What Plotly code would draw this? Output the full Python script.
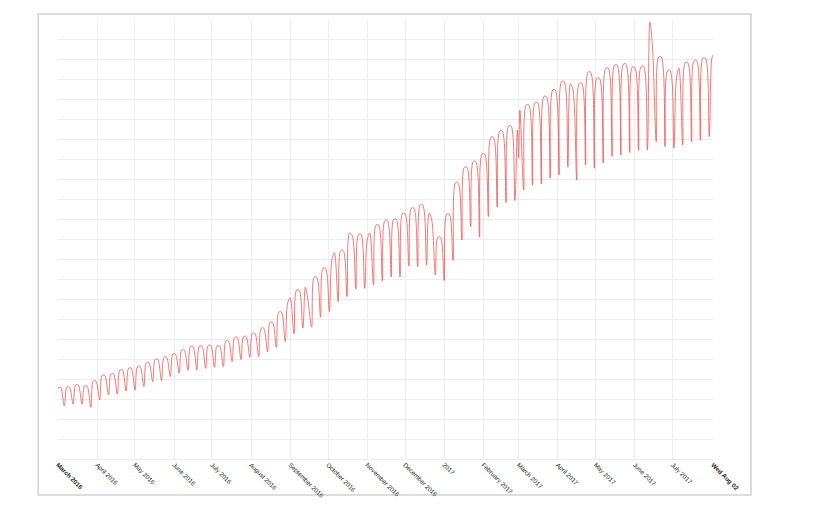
import pandas as pd
import plotly.graph_objects as go

# ---- data (arbitrary units; gridline every 10) ----
# Sunday (weekend dip) values, one per week starting Sun 2016-03-06
dip_values = [
    26.5, 27.5, 27.5, 25.9, 29.5, 32.0, 32.5, 34.0, 34.5, 36.2,
    38.7, 39.2, 41.2, 42.9, 44.3, 44.5, 45.3, 45.8, 46.2, 48.7,
    49.8, 50.8, 51.2, 53.5, 55.8, 58.7, 62.5, 65.4, 65.9, 70.9,
    73.7, 78.7, 81.2, 84.9, 85.3, 87.2, 89.0, 91.0, 91.0, 96.5,
    96.2, 97.0, 92.0, 89.2, 99.2, 109.5, 116.2, 110.9, 121.2, 125.9,
    128.2, 129.2, 134.5, 137.0, 137.5, 140.4, 142.0, 145.9, 139.5, 147.0,
    145.4, 147.9, 151.2, 152.0, 153.2, 154.2, 154.5, 158.7, 156.2, 155.4,
    157.0, 158.7, 159.5, 161.2,
]
# Weekday plateau values of the following week: Tuesday reading
peak_early = [
    35.9, 37.0, 36.5, 39.0, 41.8, 42.5, 44.5, 45.4, 46.2, 48.2,
    49.9, 50.9, 52.5, 54.5, 56.2, 56.5, 56.8, 56.5, 59.0, 60.8,
    61.2, 62.8, 65.4, 68.3, 73.5, 78.0, 84.5, 85.9, 90.9, 95.4,
    99.5, 104.2, 112.9, 112.0, 109.5, 117.0, 119.2, 119.9, 122.7, 125.4,
    127.0, 122.9, 110.9, 122.5, 138.2, 145.9, 148.7, 152.5, 160.9, 164.0,
    166.5, 164.5, 177.0, 178.2, 181.2, 184.5, 188.7, 187.5, 187.9, 193.5,
    190.4, 195.4, 197.0, 197.5, 195.9, 196.2, 218.4, 201.0, 194.2, 190.0,
    198.2, 199.2, 200.4, 200.0,
]
# ... and Thursday reading (last week ends on Wednesday)
peak_late = [
    35.9, 37.0, 36.5, 39.0, 41.8, 42.5, 44.5, 45.4, 46.2, 48.2,
    49.9, 50.9, 52.5, 54.5, 56.2, 56.5, 56.8, 56.5, 59.0, 60.8,
    61.2, 62.8, 65.4, 68.3, 73.5, 80.5, 84.5, 79.5, 90.9, 95.4,
    103.2, 104.2, 112.0, 112.5, 113.0, 117.0, 119.2, 119.9, 122.7, 125.4,
    127.0, 120.0, 110.9, 122.5, 138.2, 145.9, 148.7, 152.5, 160.9, 164.0,
    166.5, 174.5, 177.0, 178.2, 181.2, 184.5, 188.7, 184.5, 187.9, 193.5,
    190.4, 195.4, 197.0, 197.5, 195.9, 196.2, 206.2, 201.0, 194.2, 195.4,
    198.2, 199.2, 200.4, None,
]
# Individual days that stand out
extra_dates = ["2016-03-01", "2016-03-03", "2017-03-01", "2017-08-02"]
extra_values = [35.4, 35.8, 150.5, 202.0]

tick_dates = [
    "2016-03-01", "2016-04-01", "2016-05-01", "2016-06-01", "2016-07-01",
    "2016-08-01", "2016-09-01", "2016-10-01", "2016-11-01", "2016-12-01",
    "2017-01-01", "2017-02-01", "2017-03-01", "2017-04-01", "2017-05-01",
    "2017-06-01", "2017-07-01", "2017-08-02",
]
tick_labels = [
    "<b>March 2016</b>", "April 2016", "May 2016", "June 2016", "July 2016",
    "August 2016", "September 2016", "October 2016", "November 2016",
    "December 2016", "2017", "February 2017", "March 2017", "April 2017",
    "May 2017", "June 2017", "July 2017", "<b>Wed Aug 02</b>",
]

# ---- assemble points ----
sundays = pd.date_range("2016-03-06", periods=len(dip_values), freq="7D")
pts = {}
for i, sun in enumerate(sundays):
    pts[sun] = dip_values[i]
    if peak_early[i] is not None:
        pts[sun + pd.Timedelta(days=2)] = peak_early[i]
    if peak_late[i] is not None:
        pts[sun + pd.Timedelta(days=4)] = peak_late[i]
for d, v in zip(extra_dates, extra_values):
    pts[pd.Timestamp(d)] = v
series = pd.Series(pts).sort_index()

fig = go.Figure()
fig.add_trace(go.Scatter(
    x=series.index, y=series.values, mode="lines",
    line=dict(color="rgba(238,70,70,0.72)", width=1.0, shape="spline", smoothing=1.0),
    hoverinfo="skip", showlegend=False,
))

grid = "#ececec"
fig.update_layout(
    width=812, height=495,
    margin=dict(l=50, r=107, t=12, b=44, autoexpand=False),
    paper_bgcolor="white", plot_bgcolor="white",
    xaxis=dict(
        range=["2016-03-01", "2017-08-02"], automargin=False,
        tickmode="array", tickvals=tick_dates, ticktext=tick_labels,
        tickangle=45, tickfont=dict(family="Liberation Sans, Arial", size=6.3, color="#222"),
        showgrid=True, gridcolor=grid, gridwidth=1,
        showline=False, zeroline=False, ticks="", ticklen=0,
    ),
    yaxis=dict(
        range=[0, 219.5], dtick=10, tick0=0, automargin=False,
        showticklabels=False, showgrid=True, gridcolor=grid, gridwidth=1,
        zeroline=True, zerolinecolor=grid, zerolinewidth=1, showline=False, ticks="",
    ),
    shapes=[dict(
        type="rect", xref="paper", yref="paper",
        x0=-0.0301, x1=1.058, y0=-0.082, y1=1.0137,
        line=dict(color="#d2d2d2", width=1.5), fillcolor="rgba(0,0,0,0)", layer="below",
    )],
)

fig.write_html("out.html")
